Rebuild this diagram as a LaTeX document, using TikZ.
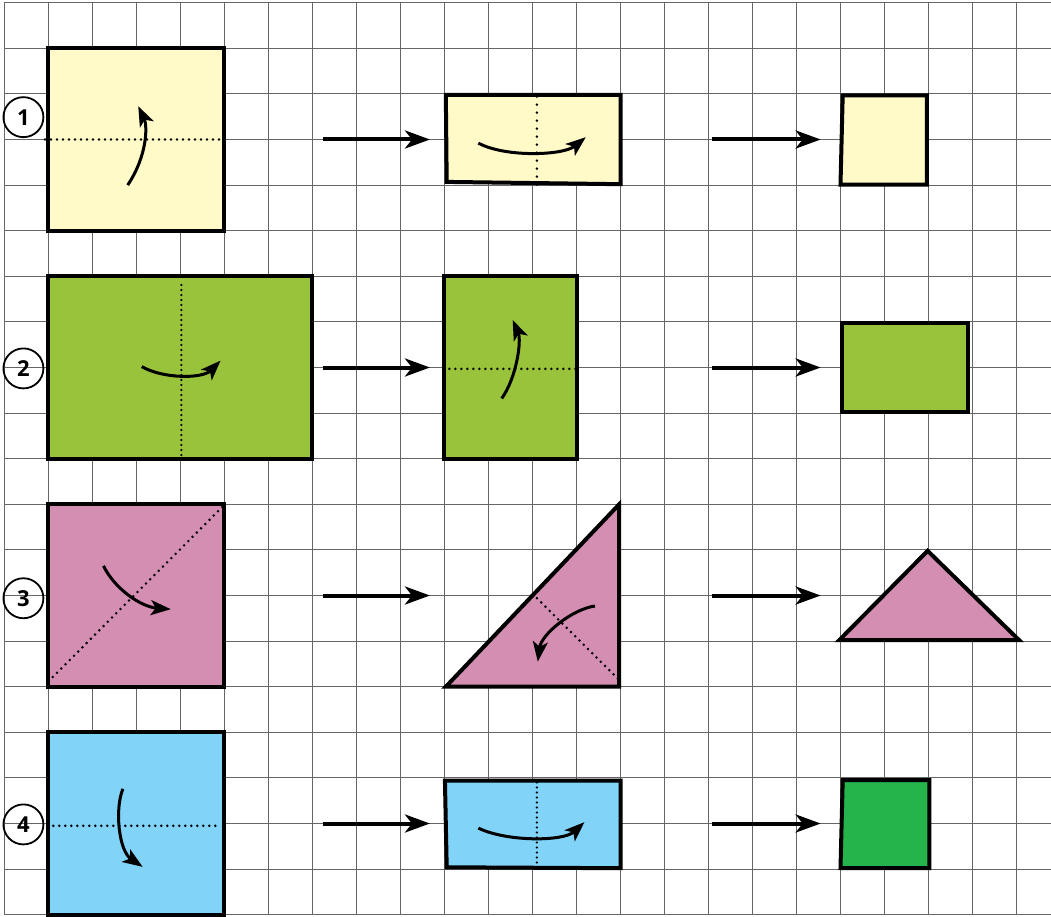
\documentclass[tikz,border=0pt]{standalone}
\usepackage{fontspec}
\newfontfamily\stepfont{Open Sans}
\usetikzlibrary{arrows.meta}
\definecolor{paperyellow}{RGB}{255,250,199}
\definecolor{papergreen}{RGB}{154,195,60}
\definecolor{paperpink}{RGB}{212,142,177}
\definecolor{paperblue}{RGB}{130,211,248}
\definecolor{darkgreen}{RGB}{37,180,76}
\tikzset{
	gridline/.style = {line width=1.1pt, color=black!60},
	paper/.style = {draw=black, line width=4pt, line join=miter},
	foldline/.style = {line width=2.8pt, line cap=round, dash pattern=on 0pt off 6pt},
	foldarrow/.style = {line width=3pt, -{Stealth[length=20pt, width=15pt, inset=5pt]}},
	steparrow/.style = {line width=4pt, -{Stealth[length=25pt, width=18pt, inset=7pt]}},
	stepnum/.style = {circle, draw, line width=1.8pt, minimum size=40pt, inner sep=0pt,
		font=\stepfont\fontsize{22}{22}\selectfont\bfseries}
}

\begin{document}
\begin{tikzpicture}[x=44pt, y=-45.6pt]
	% one grid unit = one square of the paper
	\useasboundingbox (-0.102,-0.059) rectangle (23.784,20.03);

	% The squared paper
	\foreach \i in {0,...,23}
		\draw[gridline] (\i,0) -- (\i,20);
	\foreach \j in {0,...,20}
		\draw[gridline] (0,\j) -- (23.784,\j);

	% Step numbers
	\node[stepnum] (n1) at (0.43,2.51) {1};
	\node[stepnum] (n2) at (0.43,8.02) {2};
	\node[stepnum] (n3) at (0.43,13.06) {3};
	\node[stepnum] (n4) at (0.43,18.02) {4};

	% Arrows from one stage to the next
	\foreach \r in {3,8,13,18}{
		\coordinate (a\r) at (7.24,\r);
		\coordinate (b\r) at (9.67,\r);
		\coordinate (c\r) at (16.07,\r);
		\coordinate (d\r) at (18.55,\r);
		\draw[steparrow] (a\r) -- (b\r);
		\draw[steparrow] (c\r) -- (d\r);
	}

	% Row 1: yellow square
	\fill[paperyellow] (1,1) rectangle (5,5);
	\draw[foldline] (0.92,3) -- (5.07,3);
	\draw[paper] (1,1) rectangle (5,5);
	\draw[foldarrow] (2.8,4.0) .. controls (3.25,3.35) and (3.25,2.7) .. (3.04,2.27);

	\filldraw[paper, fill=paperyellow] (10.03,2.02) -- (14,2.02) -- (14,3.98) -- (10.05,3.93) -- cycle;
	\draw[foldline, dash pattern=on 0pt off 8pt] (12.1,2.06) -- (12.1,4.04);
	\draw[foldarrow] (10.77,3.08) .. controls (11.4,3.4) and (12.7,3.35) .. (13.21,2.95);

	\filldraw[paper, fill=paperyellow] (19.05,2.03) -- (20.96,2.03) -- (20.96,3.99) -- (19,3.99) -- cycle;

	% Row 2: green rectangle
	\fill[papergreen] (1,6) rectangle (7,10);
	\draw[foldline, line width=2.4pt, dash pattern=on 0pt off 5pt] (4.02,6.19) -- (4.02,10);
	\draw[paper] (1,6) rectangle (7,10);
	\draw[foldarrow] (3.12,7.98) .. controls (3.6,8.25) and (4.5,8.25) .. (4.91,7.85);

	\fill[papergreen] (10,6) rectangle (13,10);
	\draw[foldline] (10.11,8.03) -- (13.08,8.03);
	\draw[paper] (10,6) rectangle (13,10);
	\draw[foldarrow] (11.3,8.68) .. controls (11.65,8.2) and (11.75,7.4) .. (11.55,6.96);

	\filldraw[paper, fill=papergreen] (19.03,7.02) rectangle (21.9,8.98);

	% Row 3: pink square
	\fill[paperpink] (1,11) rectangle (5,15);
	\draw[foldline] (1,14.88) -- (4.96,11.05);
	\draw[paper] (1,11) rectangle (5,15);
	\draw[foldarrow] (2.25,12.35) .. controls (2.5,12.85) and (3.1,13.25) .. (3.78,13.3);

	\fill[paperpink] (10.03,15) -- (13.97,11) -- (13.97,15) -- cycle;
	\draw[foldline] (12.1,13.06) -- (14.03,14.91);
	\draw[paper] (10.03,15) -- (13.97,11) -- (13.97,15) -- cycle;
	\draw[foldarrow] (13.42,13.23) .. controls (12.9,13.3) and (12.2,13.85) .. (12.12,14.45);

	\filldraw[paper, fill=paperpink] (18.97,13.98) -- (20.98,12.02) -- (23.06,13.98) -- cycle;

	% Row 4: blue square
	\fill[paperblue] (1,16) rectangle (5,20);
	\draw[foldline] (1.11,18.05) -- (4.82,18.05);
	\draw[paper] (1,16) rectangle (5,20);
	\draw[foldarrow] (2.69,17.24) .. controls (2.5,17.7) and (2.6,18.6) .. (3.14,18.95);

	\fill[paperblue] (10.01,17.06) -- (14,17.06) -- (14,18.98) -- (10.05,18.96) -- cycle;
	\draw[foldline, line width=2.4pt, dash pattern=on 0pt off 5pt] (12.1,17.1) -- (12.1,19.02);
	\draw[paper] (10.01,17.06) -- (14,17.06) -- (14,18.98) -- (10.05,18.96) -- cycle;
	\draw[foldarrow] (10.77,18.1) .. controls (11.4,18.4) and (12.7,18.4) .. (13.18,17.97);

	\filldraw[paper, fill=darkgreen] (19.05,17.05) -- (21.02,17.05) -- (21.02,18.98) -- (19,18.98) -- cycle;
\end{tikzpicture}
\end{document}
